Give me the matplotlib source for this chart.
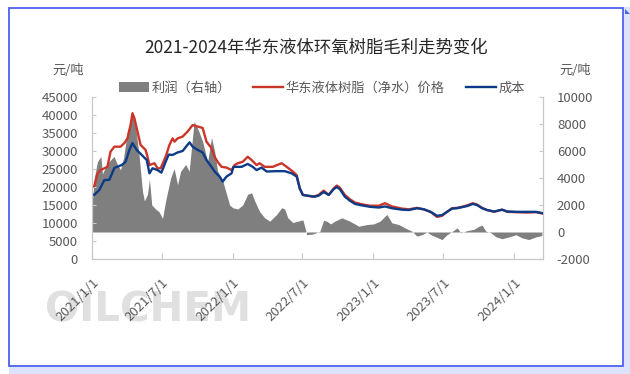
import matplotlib
matplotlib.use('Agg')
import matplotlib.pyplot as plt
import pandas as pd
from matplotlib.patches import Rectangle, Patch, Polygon
from matplotlib.lines import Line2D

plt.rcParams['font.family'] = ['Noto Sans CJK SC', 'DejaVu Sans']

# ---------------- data ----------------
price_dates = ['2021-01-01', '2021-01-07', '2021-01-15', '2021-01-23', '2021-02-10', '2021-02-18',
               '2021-02-28', '2021-03-16', '2021-03-26', '2021-04-03', '2021-04-11', '2021-04-16',
               '2021-04-21', '2021-04-29', '2021-05-07', '2021-05-20', '2021-05-25', '2021-05-30',
               '2021-06-12', '2021-06-20', '2021-06-28', '2021-07-11', '2021-07-21', '2021-07-29',
               '2021-08-03', '2021-08-11', '2021-08-24', '2021-09-06', '2021-09-19', '2021-10-02',
               '2021-10-15', '2021-10-25', '2021-11-07', '2021-11-15', '2021-11-23', '2021-12-03',
               '2021-12-16', '2021-12-29', '2022-01-06', '2022-01-14', '2022-01-27', '2022-02-09',
               '2022-02-19', '2022-03-04', '2022-03-12', '2022-03-25', '2022-04-15', '2022-05-08',
               '2022-05-21', '2022-06-06', '2022-06-16', '2022-06-24', '2022-07-02', '2022-07-28',
               '2022-08-12', '2022-08-25', '2022-09-07', '2022-09-20', '2022-09-28', '2022-10-06',
               '2022-10-19', '2022-11-01', '2022-11-14', '2022-12-02', '2022-12-23', '2023-01-15',
               '2023-01-31', '2023-02-18', '2023-03-16', '2023-04-03', '2023-04-24', '2023-05-12',
               '2023-05-30', '2023-06-15', '2023-06-28', '2023-07-11', '2023-07-24', '2023-08-06',
               '2023-08-19', '2023-09-01', '2023-09-16', '2023-09-27', '2023-10-10', '2023-10-23',
               '2023-11-10', '2023-12-01', '2023-12-14', '2024-01-09', '2024-02-03', '2024-02-27',
               '2024-03-16']
price_values = [20000, 20300, 23600, 24700, 25600, 29800,
                31200, 31200, 32200, 33500, 37200, 40500,
                39100, 35400, 31700, 30300, 28400, 26100,
                26600, 25200, 25200, 28400, 31700, 33500,
                32600, 33500, 34000, 35400, 37200, 36800,
                36400, 32600, 30800, 28400, 27000, 25600,
                25400, 24700, 26100, 26600, 27000, 28400,
                27500, 26100, 26600, 25600, 25600, 26600,
                25600, 24300, 23300, 19600, 17800, 17300,
                17800, 19000, 17800, 19600, 20400, 19800,
                17800, 16600, 15700, 15200, 14800, 14800,
                15500, 14600, 14000, 13800, 14200, 13800,
                13000, 11700, 12000, 13100, 14100, 14200,
                14500, 14900, 15500, 15100, 14200, 13600,
                13100, 13700, 13100, 13000, 12900, 13000,
                12600]

cost_dates = ['2021-01-01', '2021-01-07', '2021-01-20', '2021-02-02', '2021-02-15', '2021-02-28',
              '2021-03-19', '2021-03-29', '2021-04-08', '2021-04-16', '2021-04-27', '2021-05-10',
              '2021-05-23', '2021-05-30', '2021-06-07', '2021-06-20', '2021-06-30', '2021-07-11',
              '2021-07-19', '2021-07-29', '2021-08-11', '2021-08-24', '2021-09-11', '2021-09-19',
              '2021-10-02', '2021-10-15', '2021-10-25', '2021-11-07', '2021-11-15', '2021-11-28',
              '2021-12-06', '2021-12-16', '2021-12-29', '2022-01-03', '2022-01-24', '2022-02-09',
              '2022-02-22', '2022-03-04', '2022-03-17', '2022-03-30', '2022-04-25', '2022-05-16',
              '2022-06-03', '2022-06-16', '2022-06-24', '2022-07-02', '2022-08-02', '2022-08-12',
              '2022-08-25', '2022-09-07', '2022-09-20', '2022-09-28', '2022-10-06', '2022-10-19',
              '2022-11-01', '2022-11-14', '2022-12-02', '2022-12-23', '2023-01-15', '2023-01-31',
              '2023-02-18', '2023-03-16', '2023-04-03', '2023-04-24', '2023-05-12', '2023-05-30',
              '2023-06-15', '2023-06-28', '2023-07-11', '2023-07-24', '2023-08-06', '2023-08-19',
              '2023-09-01', '2023-09-16', '2023-09-27', '2023-10-10', '2023-10-23', '2023-11-10',
              '2023-12-01', '2023-12-14', '2024-01-09', '2024-02-03', '2024-02-27', '2024-03-16']
cost_values = [18000, 17800, 19200, 21900, 22000, 25300,
               26100, 27000, 30300, 32200, 30300, 28900,
               27500, 23800, 25200, 24700, 24000, 27000,
               29000, 28900, 29600, 30000, 32400, 31200,
               30300, 29600, 27500, 25600, 24300, 22900,
               21500, 22900, 23800, 25600, 25600, 26400,
               25600, 24700, 25400, 24300, 24400, 24400,
               23800, 22900, 19600, 17800, 17300, 17600,
               18600, 17800, 19400, 20000, 19400, 17300,
               16200, 15300, 14900, 14500, 14300, 14600,
               14100, 13700, 13600, 14100, 13800, 13100,
               12000, 12200, 13100, 14000, 14100, 14400,
               14700, 15300, 15000, 14100, 13600, 13200,
               13700, 13200, 13100, 13100, 13100, 12700]

profit_dates = ['2021-01-01', '2021-01-07', '2021-01-15', '2021-01-24', '2021-01-28', '2021-02-05',
                '2021-02-14', '2021-02-27', '2021-03-08', '2021-03-16', '2021-03-24', '2021-04-03',
                '2021-04-16', '2021-04-24', '2021-05-03', '2021-05-12', '2021-05-17', '2021-05-25',
                '2021-05-30', '2021-06-05', '2021-06-15', '2021-06-24', '2021-07-03', '2021-07-11',
                '2021-07-24', '2021-08-02', '2021-08-11', '2021-08-19', '2021-09-01', '2021-09-10',
                '2021-09-23', '2021-10-06', '2021-10-15', '2021-10-28', '2021-11-07', '2021-11-15',
                '2021-11-23', '2021-12-06', '2021-12-16', '2021-12-24', '2022-01-01', '2022-01-14',
                '2022-01-27', '2022-02-09', '2022-02-19', '2022-02-27', '2022-03-12', '2022-03-25',
                '2022-04-07', '2022-04-25', '2022-05-08', '2022-05-16', '2022-05-24', '2022-06-06',
                '2022-06-19', '2022-07-02', '2022-07-10', '2022-07-12', '2022-07-28', '2022-08-15',
                '2022-08-25', '2022-09-02', '2022-09-12', '2022-09-23', '2022-10-11', '2022-11-01',
                '2022-11-24', '2022-12-15', '2023-01-02', '2023-01-18', '2023-02-05', '2023-02-18',
                '2023-03-08', '2023-03-24', '2023-04-11', '2023-04-24', '2023-05-07', '2023-05-20',
                '2023-05-30', '2023-06-15', '2023-06-28', '2023-07-11', '2023-07-29', '2023-08-06',
                '2023-08-16', '2023-09-01', '2023-09-19', '2023-10-02', '2023-10-10', '2023-10-20',
                '2023-11-02', '2023-11-15', '2023-12-01', '2023-12-19', '2024-01-06', '2024-01-21',
                '2024-02-08', '2024-02-27', '2024-03-13']
profit_values = [2000, 4000, 5200, 5600, 4300, 4800,
                 5200, 5600, 5000, 4600, 5500, 7500,
                 8700, 7800, 5700, 3000, 2300, 2800,
                 3900, 2000, 1700, 1500, 1000, 2300,
                 4000, 4700, 3500, 4500, 5000, 4500,
                 8200, 7400, 6700, 5200, 7000, 6000,
                 4500, 3800, 2800, 2000, 1800, 1700,
                 2000, 2800, 2900, 2300, 1500, 1050,
                 800, 1300, 1800, 1700, 1050, 700,
                 800, 900, 50, -200, -150, 50,
                 870, 800, 600, 800, 1050, 800,
                 430, 550, 600, 800, 1300, 680,
                 550, 300, 60, -300, -200, 0,
                 -200, -400, -560, -200, 130, 310,
                 -60, 100, 200, 430, 500, 60,
                 -60, -360, -500, -360, -200, -430,
                 -560, -360, -260]

title = '2021-2024年华东液体环氧树脂毛利走势变化'
legend_labels = ['利润（右轴）', '华东液体树脂（净水）价格', '成本']
unit_label = '元/吨'
left_ticks = [0, 5000, 10000, 15000, 20000, 25000, 30000, 35000, 40000, 45000]
right_ticks = [-2000, 0, 2000, 4000, 6000, 8000, 10000]
x_tick_dates = ['2021-01-01', '2021-07-01', '2022-01-01', '2022-07-01',
                '2023-01-01', '2023-07-01', '2024-01-01']
x_tick_labels = ['2021/1/1', '2021/7/1', '2022/1/1', '2022/7/1',
                 '2023/1/1', '2023/7/1', '2024/1/1']
x_range = ['2021-01-01', '2024-03-16']
watermark = 'OILCHEM'

# ---------------- styles ----------------
W, H = 630, 374
RED = '#cc3529'
BLUE = '#0c3b87'
GRAY = '#7f7f7f'
AXC = '#c8c8c8'
TXT = '#595959'

fig = plt.figure(figsize=(W / 100, H / 100), dpi=100)
fig.patch.set_facecolor('white')

# screenshot frame
fig.add_artist(Rectangle((624 / W, 0), 1 - 624 / W, 1 - 7 / H, transform=fig.transFigure,
                         facecolor='#dde3fb', edgecolor='none', zorder=0))
fig.add_artist(Rectangle((9 / W, 0), 1 - 9 / W, 1 - 367 / H, transform=fig.transFigure,
                         facecolor='#dde3fb', edgecolor='none', zorder=0))
fig.add_artist(Polygon([(625 / W, 1 - 9 / H), (630 / W, 1 - 14 / H), (625 / W, 1 - 14 / H)],
                       closed=True, transform=fig.transFigure, facecolor='#4a60ef',
                       edgecolor='none', zorder=0))
fig.add_artist(Rectangle((9 / W, 1 - 366 / H), (622.5 - 9) / W, (366 - 7.5) / H,
                         transform=fig.transFigure, fill=False, edgecolor='#4a60ef',
                         linewidth=1.3, zorder=5))

# watermark
fig.text(45 / W, 1 - 310 / H, watermark, fontsize=29, fontweight='bold',
         family=['DejaVu Sans'], color='#e0e0e0', ha='left', va='center', zorder=0.5)

ax = fig.add_axes([92 / W, 1 - 259 / H, (543 - 92) / W, (259 - 97) / H])
ax2 = ax.twinx()

pdates = pd.to_datetime(profit_dates)
ax2.fill_between(pdates, profit_values, 0, color=GRAY, linewidth=0)
ax.plot(pd.to_datetime(price_dates), price_values, color=RED, linewidth=1.7)
ax.plot(pd.to_datetime(cost_dates), cost_values, color=BLUE, linewidth=1.7)

ax.set_zorder(ax2.get_zorder() + 1)
ax.patch.set_visible(False)

ax.set_xlim(pd.Timestamp(x_range[0]), pd.Timestamp(x_range[1]))
ax.set_ylim(left_ticks[0], left_ticks[-1])
ax2.set_ylim(right_ticks[0], right_ticks[-1])
ax.set_yticks(left_ticks)
ax.set_yticklabels([str(v) for v in left_ticks])
ax2.set_yticks(right_ticks)
ax2.set_yticklabels([str(v) for v in right_ticks])
ax.set_xticks(pd.to_datetime(x_tick_dates))
ax.set_xticklabels(x_tick_labels, rotation=45, ha='right', va='top', rotation_mode='anchor')

for a in (ax, ax2):
    for s in a.spines.values():
        s.set_color(AXC)
        s.set_linewidth(0.9)
    a.spines['top'].set_visible(False)
ax.spines['right'].set_visible(False)
ax2.spines['left'].set_visible(False)
ax2.spines['bottom'].set_visible(False)

ax.tick_params(axis='y', direction='in', length=3, color=AXC, labelcolor=TXT,
               labelsize=9.5, pad=10)
ax2.tick_params(axis='y', direction='in', length=3, color=AXC, labelcolor=TXT,
                labelsize=9.5, pad=10)
ax.tick_params(axis='x', direction='in', length=4, color=AXC, labelcolor=TXT,
               labelsize=9.5, pad=12)

# title, units
fig.text(316 / W, 1 - 48 / H, title, fontsize=12.5, color='#262626', ha='center', va='center')
fig.text(68 / W, 1 - 70 / H, unit_label, fontsize=9.5, color=TXT, ha='center', va='center')
fig.text(575 / W, 1 - 70 / H, unit_label, fontsize=9.5, color=TXT, ha='center', va='center')

handles = [Patch(facecolor=GRAY, edgecolor='none'),
           Line2D([], [], color=RED, linewidth=1.7),
           Line2D([], [], color=BLUE, linewidth=1.7)]
leg = fig.legend(handles, legend_labels, loc='center', bbox_to_anchor=(322 / W, 1 - 88 / H),
                 ncol=3, frameon=False, fontsize=9.5, handlelength=2.3, handletextpad=0.2,
                 columnspacing=1.6)
for t in leg.get_texts():
    t.set_color(TXT)

fig.savefig('out.png', dpi=100)
